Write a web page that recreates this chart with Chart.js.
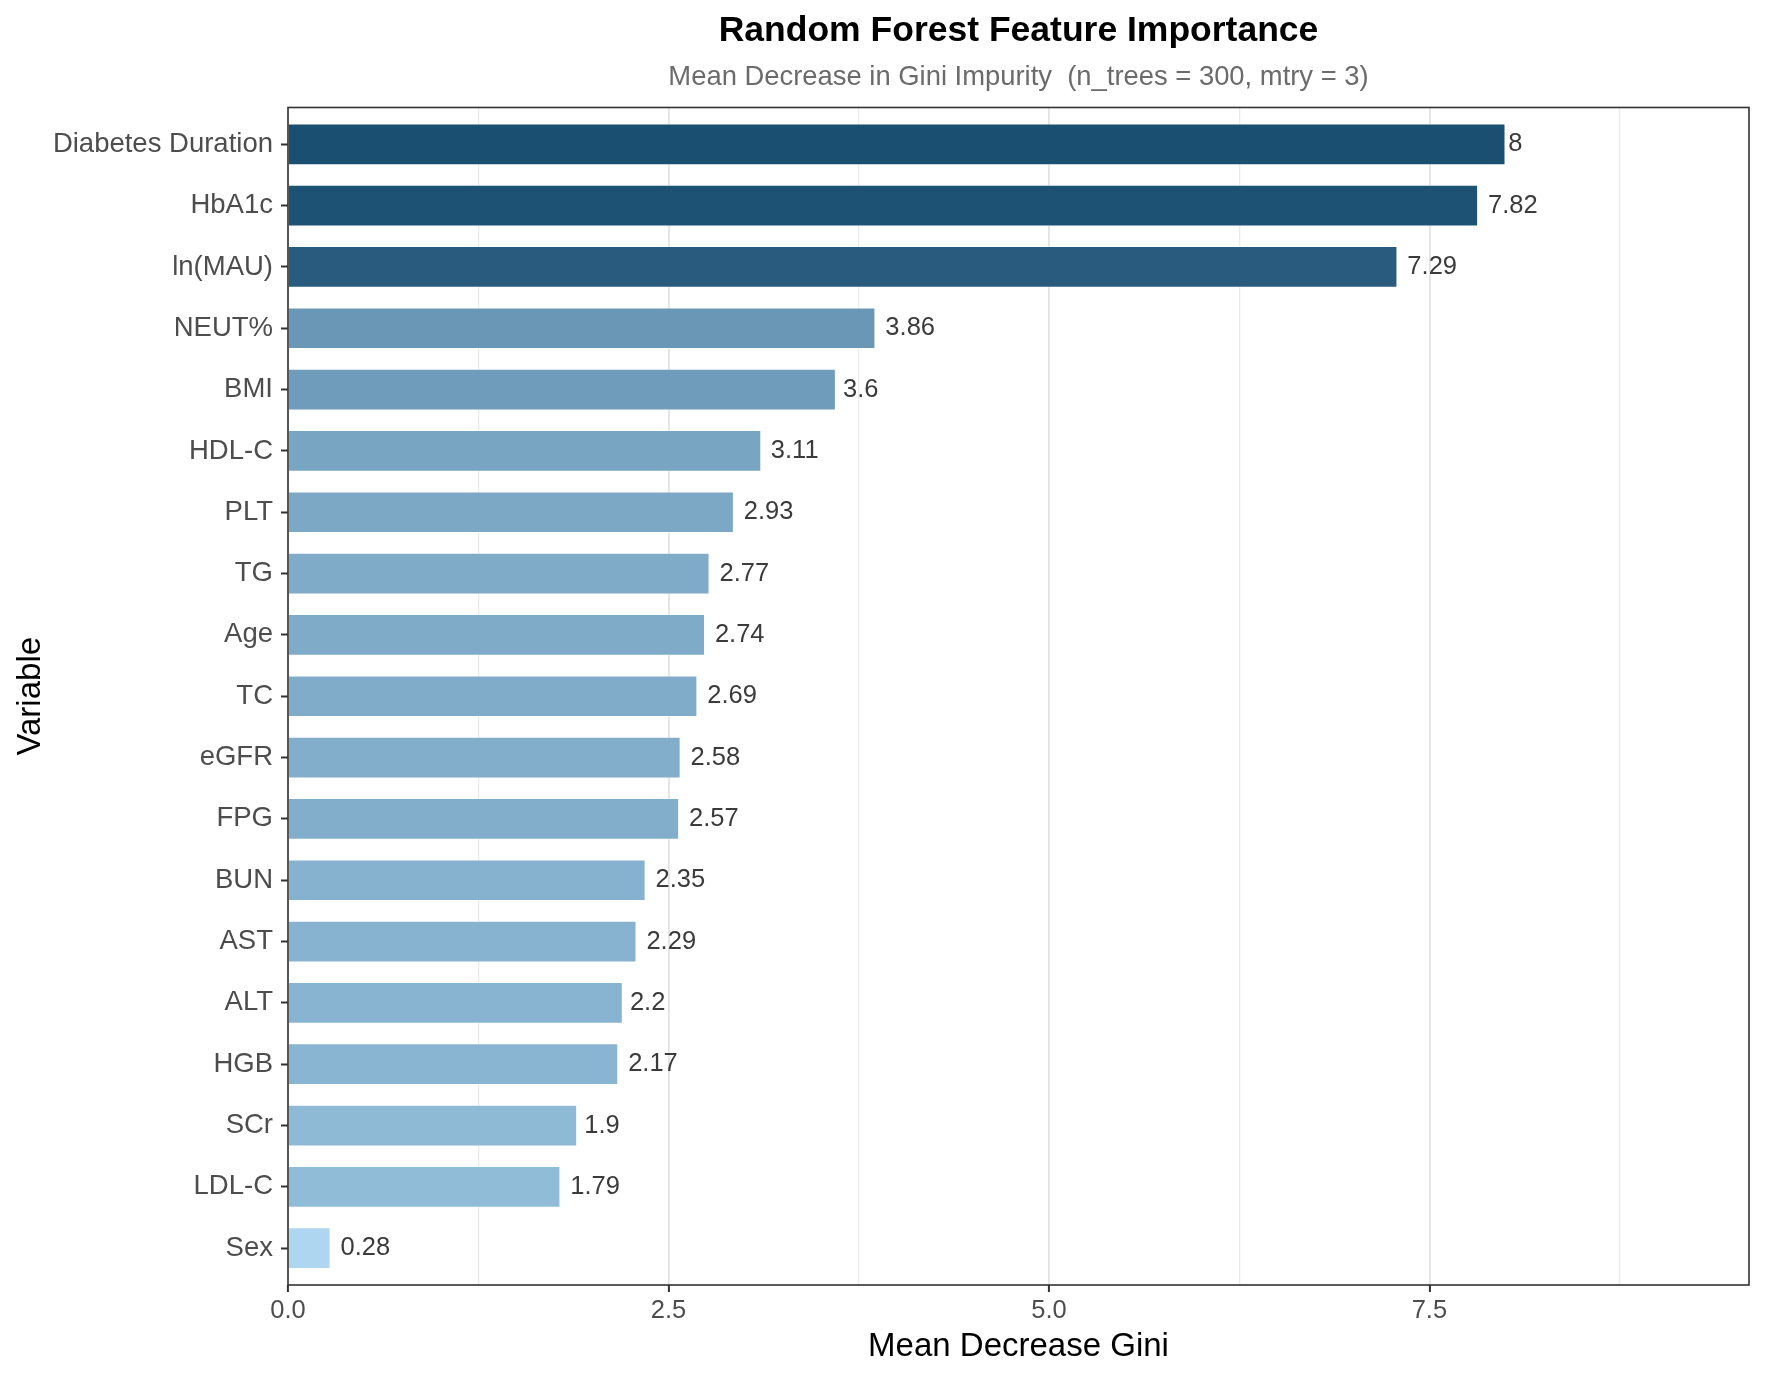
<!DOCTYPE html>
<html>
<head>
<meta charset="utf-8">
<title>Random Forest Feature Importance</title>
<script src="https://cdn.jsdelivr.net/npm/chart.js@4/dist/chart.umd.min.js"></script>
<style>
  html, body { margin: 0; padding: 0; background: #fff; }
  canvas { display: block; }
</style>
</head>
<body>
<canvas id="chart" width="1772" height="1379"></canvas>
<script>
// variables, top to bottom
const variables = ['Diabetes Duration', 'HbA1c', 'ln(MAU)', 'NEUT%', 'BMI', 'HDL-C', 'PLT', 'TG', 'Age', 'TC',
                   'eGFR', 'FPG', 'BUN', 'AST', 'ALT', 'HGB', 'SCr', 'LDL-C', 'Sex'];
const importance = [8, 7.82, 7.29, 3.86, 3.6, 3.11, 2.93, 2.77, 2.74, 2.69,
                    2.58, 2.57, 2.35, 2.29, 2.2, 2.17, 1.9, 1.79, 0.28];

const majorTicks = [0, 2.5, 5, 7.5];
const minorTicks = [1.25, 3.75, 6.25, 8.75];
const xMax = 9.6;

const FONT = "'Liberation Sans', Arial, Helvetica, sans-serif";

// fill gradient low -> high, like scale_fill_gradient
const lowCol = [174, 214, 241];
const highCol = [27, 79, 114];
const vmin = Math.min(...importance), vmax = Math.max(...importance);
function fillFor(v) {
    const t = (v - vmin) / (vmax - vmin);
    const c = lowCol.map((l, i) => Math.round(l + (highCol[i] - l) * t));
    return 'rgb(' + c.join(',') + ')';
}

const isMajor = v => majorTicks.some(m => Math.abs(m - v) < 1e-9);

// value labels right of each bar (hjust = -0.2)
const valueLabels = {
    id: 'valueLabels',
    afterDatasetsDraw(chart) {
        const ctx = chart.ctx;
        const meta = chart.getDatasetMeta(0);
        ctx.save();
        ctx.font = '25.5px ' + FONT;
        ctx.fillStyle = '#3b3b3b';
        ctx.textAlign = 'left';
        ctx.textBaseline = 'middle';
        meta.data.forEach((bar, i) => {
            const txt = String(importance[i]);
            const w = ctx.measureText(txt).width;
            ctx.fillText(txt, bar.x + 0.2 * w, bar.y);
        });
        ctx.restore();
    }
};

// panel border all round
const panelBorder = {
    id: 'panelBorder',
    afterDraw(chart) {
        const a = chart.chartArea;
        const ctx = chart.ctx;
        ctx.save();
        ctx.strokeStyle = '#333333';
        ctx.lineWidth = 1.6;
        ctx.strokeRect(a.left, a.top, a.right - a.left, a.bottom - a.top);
        ctx.restore();
    }
};

const ctx = document.getElementById('chart').getContext('2d');
new Chart(ctx, {
    type: 'bar',
    data: {
        datasets: [{
            data: importance.map((v, i) => ({x: v, y: i})),
            backgroundColor: importance.map(fillFor),
            borderColor: 'rgba(255,255,255,0.5)',
            borderWidth: 1,
            barPercentage: 0.68,
            categoryPercentage: 1
        }]
    },
    options: {
        indexAxis: 'y',
        responsive: false,
        animation: false,
        devicePixelRatio: 1,
        layout: { padding: { left: 0, right: 23, top: 0, bottom: 0 } },
        plugins: {
            legend: { display: false },
            tooltip: { enabled: false },
            title: {
                display: true,
                text: 'Random Forest Feature Importance',
                fullSize: false,
                color: '#000',
                font: { family: FONT, size: 35.5, weight: 'bold', lineHeight: 1.2 },
                padding: { top: 10, bottom: 8 }
            },
            subtitle: {
                display: true,
                text: 'Mean Decrease in Gini Impurity  (n_trees = 300, mtry = 3)',
                fullSize: false,
                color: '#6b6b6b',
                font: { family: FONT, size: 27.4, lineHeight: 1.2 },
                padding: { top: 0, bottom: 14 }
            }
        },
        scales: {
            x: {
                type: 'linear',
                min: 0,
                max: xMax,
                afterBuildTicks: s => {
                    s.ticks = majorTicks.concat(minorTicks).sort((a, b) => a - b).map(v => ({value: v}));
                },
                afterFit: s => { s.height = 94; },
                ticks: {
                    color: '#4d4d4d',
                    font: { family: FONT, size: 25.5 },
                    padding: 4,
                    maxRotation: 0,
                    callback: v => isMajor(v) ? v.toFixed(1) : ''
                },
                grid: {
                    drawOnChartArea: true,
                    drawTicks: true,
                    tickLength: 7,
                    color: c => isMajor(c.tick.value) ? '#e3e3e3' : '#ebebeb',
                    lineWidth: c => isMajor(c.tick.value) ? 1.8 : 1.3,
                    tickColor: c => isMajor(c.tick.value) ? '#333333' : 'rgba(0,0,0,0)',
                    tickWidth: 2
                },
                border: { display: false },
                title: {
                    display: true,
                    text: 'Mean Decrease Gini',
                    color: '#000',
                    font: { family: FONT, size: 33, lineHeight: 1.2 },
                    padding: { top: 0, bottom: 12 }
                }
            },
            y: {
                type: 'linear',
                reverse: true,
                offset: false,
                min: -0.6,
                max: variables.length - 1 + 0.6,
                afterBuildTicks: s => {
                    s.ticks = variables.map((_, i) => ({value: i}));
                },
                afterFit: s => { s.width = 288; },
                ticks: {
                    color: '#4d4d4d',
                    font: { family: FONT, size: 27.5 },
                    padding: 8,
                    callback: v => variables[v]
                },
                grid: {
                    offset: false,
                    drawOnChartArea: false,
                    drawTicks: true,
                    tickLength: 7,
                    tickColor: '#333333',
                    tickWidth: 2
                },
                border: { display: false },
                title: {
                    display: true,
                    text: 'Variable',
                    color: '#000',
                    font: { family: FONT, size: 33, lineHeight: 1.2 },
                    padding: { top: 11, bottom: 0 }
                }
            }
        }
    },
    plugins: [valueLabels, panelBorder]
});
</script>
</body>
</html>
